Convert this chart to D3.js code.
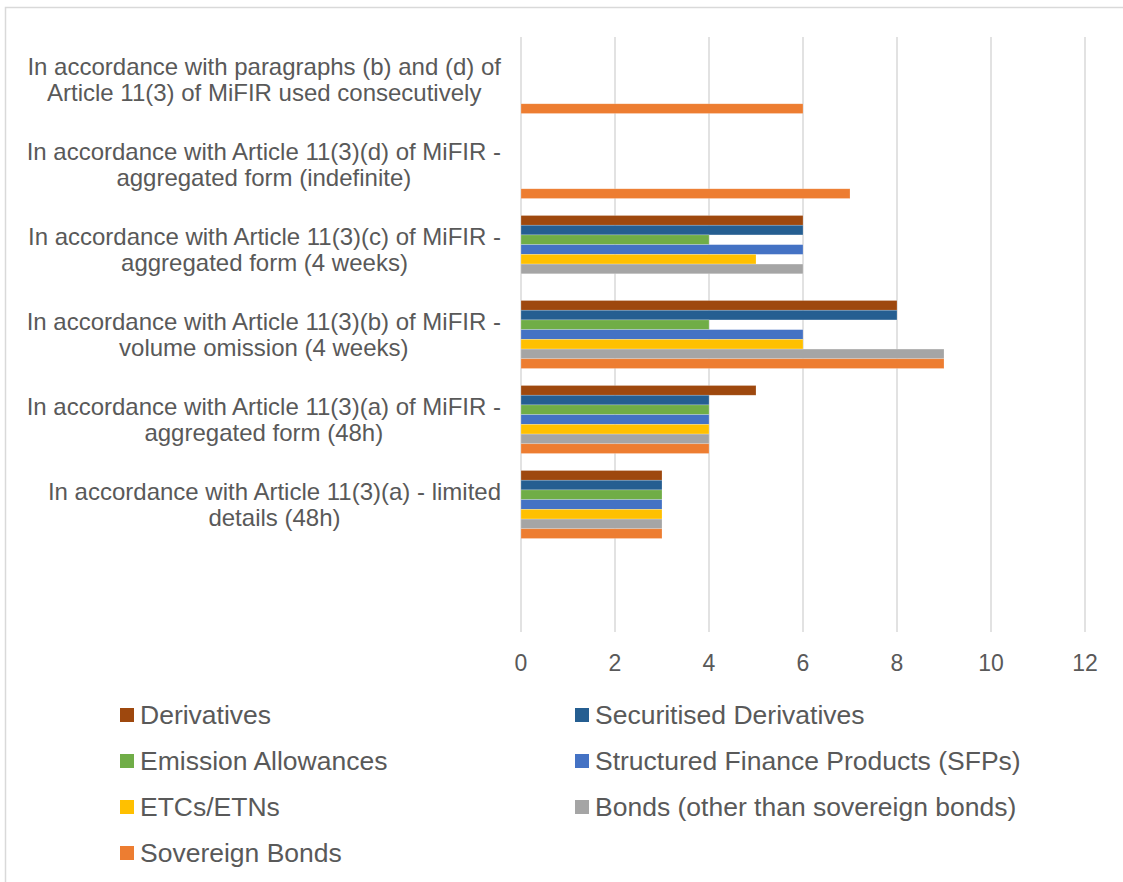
<!DOCTYPE html>
<html>
<head>
<meta charset="utf-8">
<script src="https://cdn.jsdelivr.net/npm/d3@7"></script>
<style>
  body { margin: 0; background: #fff; }
  text { font-family: "Liberation Sans", Arial, sans-serif; fill: #595959; }
</style>
</head>
<body>
<div id="div_bar_chart"></div>
<script>
// categories from top to bottom, the last one is an empty slot like in the excel chart
const categories = [
    ["In accordance with paragraphs (b) and (d) of", "Article 11(3) of MiFIR used consecutively"],
    ["In accordance with Article 11(3)(d) of MiFIR -", "aggregated form (indefinite)"],
    ["In accordance with Article 11(3)(c) of MiFIR -", "aggregated form (4 weeks)"],
    ["In accordance with Article 11(3)(b) of MiFIR -", "volume omission (4 weeks)"],
    ["In accordance with Article 11(3)(a) of MiFIR -", "aggregated form (48h)"],
    ["In accordance with Article 11(3)(a) - limited", "details (48h)"],
    [""]
];

const seriesNames = [
    "Derivatives",
    "Securitised Derivatives",
    "Emission Allowances",
    "Structured Finance Products (SFPs)",
    "ETCs/ETNs",
    "Bonds (other than sovereign bonds)",
    "Sovereign Bonds"
];

const seriesColors = ["#9E480E", "#255E91", "#70AD47", "#4472C4", "#FFC000", "#A5A5A5", "#ED7D31"];

// one value per category, null = no bar
const derivatives        = [null, null, 6, 8, 5, 3, null];
const securitisedDeriv   = [null, null, 6, 8, 4, 3, null];
const emissionAllowances = [null, null, 4, 4, 4, 3, null];
const structuredFinance  = [null, null, 6, 6, 4, 3, null];
const etcsEtns           = [null, null, 5, 6, 4, 3, null];
const bonds              = [null, null, 6, 9, 4, 3, null];
const sovereignBonds     = [6, 7, null, 9, 4, 3, null];

const xTicks = [0, 2, 4, 6, 8, 10, 12];

const seriesValues = [derivatives, securitisedDeriv, emissionAllowances, structuredFinance, etcsEtns, bonds, sovereignBonds];

const width = 1123;
const height = 882;

const svg = d3.select("#div_bar_chart")
    .append("svg")
    .attr("width", width)
    .attr("height", height);

// chart frame (only top and left edges are inside the picture)
svg.append("rect")
    .attr("x", 5.5)
    .attr("y", 7.5)
    .attr("width", width + 20)
    .attr("height", height + 20)
    .attr("fill", "none")
    .attr("stroke", "#d9d9d9")
    .attr("stroke-width", 1.5);

const plot = { left: 521, right: 1085, top: 37, bottom: 632 };

const x = d3.scaleLinear()
    .domain([0, 12])
    .range([plot.left, plot.right]);

const y = d3.scaleBand()
    .domain(d3.range(categories.length))
    .range([plot.top, plot.bottom])
    .padding(0);

// bars inside one category
const ySeries = d3.scaleBand()
    .domain(d3.range(seriesNames.length))
    .range([y.bandwidth() * 0.1, y.bandwidth() * 0.9])
    .padding(0);

// vertical grid
svg.append("g")
    .selectAll("line")
    .data(xTicks)
    .join("line")
    .attr("x1", d => x(d))
    .attr("x2", d => x(d))
    .attr("y1", plot.top)
    .attr("y2", plot.bottom)
    .attr("stroke", "#d9d9d9")
    .attr("stroke-width", 1.5);

// tick labels
svg.append("g")
    .selectAll("text")
    .data(xTicks)
    .join("text")
    .attr("x", d => x(d))
    .attr("y", 671)
    .attr("text-anchor", "middle")
    .style("font-size", "23px")
    .text(d => d);

// build flat list of bars
const barData = [];
seriesValues.forEach((vals, s) => {
    vals.forEach((v, c) => {
        if (v !== null) barData.push({ series: s, cat: c, value: v });
    });
});

svg.append("g")
    .selectAll("rect")
    .data(barData)
    .join("rect")
    .attr("x", x(0))
    .attr("y", d => y(d.cat) + ySeries(d.series))
    .attr("width", d => x(d.value) - x(0))
    .attr("height", ySeries.bandwidth())
    .attr("fill", d => seriesColors[d.series])
    .attr("stroke", "#ffffff")
    .attr("stroke-opacity", 0.35)
    .attr("stroke-width", 0.6);

// category labels: lines centred on each other, block right-aligned to the axis
const labelRight = 501;
const lineGap = 26;
const labelG = svg.append("g");
categories.forEach((lines, c) => {
    const cy = y(c) + y.bandwidth() / 2;
    const t = labelG.append("text")
        .attr("text-anchor", "middle")
        .style("font-size", "24px");
    const spans = lines.map((ln, i) => t.append("tspan")
        .attr("y", cy + (i - (lines.length - 1) / 2) * lineGap + 8.5)
        .text(ln));
    const maxW = d3.max(spans, sp => sp.node().getComputedTextLength());
    spans.forEach(sp => sp.attr("x", labelRight - maxW / 2));
});

// legend, two columns
const legendCols = [120, 575];
const legendRows = [715, 761, 807, 853];
const legend = svg.append("g")
    .selectAll("g")
    .data(seriesNames)
    .join("g")
    .attr("transform", (d, i) => `translate(${legendCols[i % 2]}, ${legendRows[Math.floor(i / 2)]})`);

legend.append("rect")
    .attr("x", 0)
    .attr("y", -7)
    .attr("width", 14)
    .attr("height", 14)
    .attr("fill", (d, i) => seriesColors[i]);

legend.append("text")
    .attr("x", 20)
    .attr("y", 9)
    .style("font-size", "26.5px")
    .text(d => d);
</script>
</body>
</html>
